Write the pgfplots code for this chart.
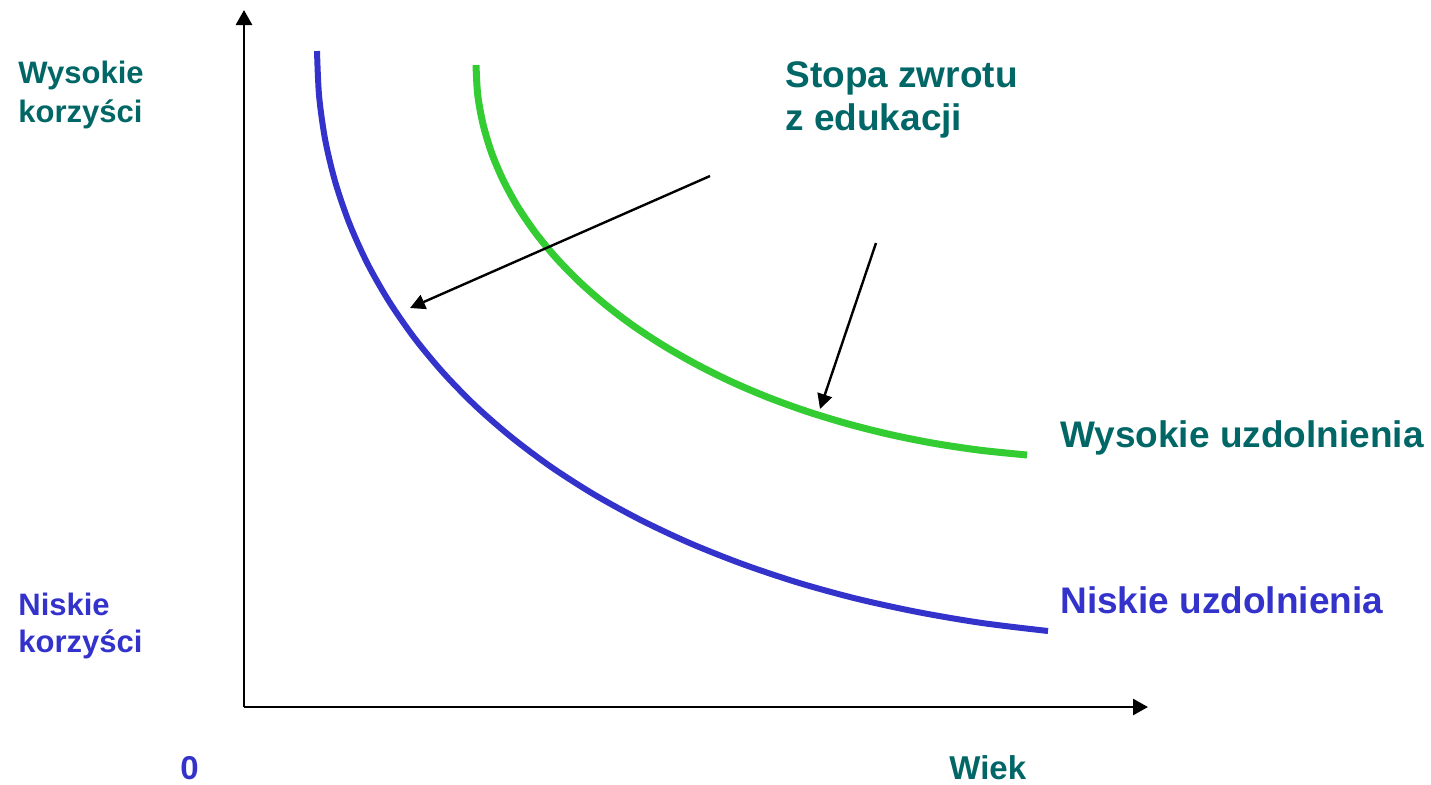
\documentclass[border=0pt]{standalone}
\usepackage{pgfplots}
\pgfplotsset{compat=1.18}
\usepackage{fontspec}
\setmainfont{Liberation Sans}
\usetikzlibrary{arrows.meta}
\definecolor{cblue}{HTML}{3333CC}
\definecolor{cgreen}{HTML}{33CC33}
\definecolor{cteal}{HTML}{006666}
\begin{document}
\begin{tikzpicture}
\path[use as bounding box] (0,0) rectangle (715.5pt,392pt);
\begin{axis}[
  scale only axis, width=715.5pt, height=392pt,
  xmin=0, xmax=1431, ymin=0, ymax=784, y dir=reverse,
  hide axis, clip=false, anchor=south west, at={(0,0)}]
% axes
\addplot[black, line width=1.4pt, -{Triangle[length=7.5pt,width=8pt]}] coordinates {(244,707) (244,10)};
\addplot[black, line width=1.4pt, -{Triangle[length=7.5pt,width=8pt]}] coordinates {(244,707) (1148,707)};
% low ability (blue)
\addplot[cblue, line width=3pt, smooth] coordinates {
 (317,51) (319.1,96.0) (325.2,139.9) (335.4,182.5) (349.5,223.7) (367.5,263.6) (389.3,301.8)
 (414.8,338.5) (443.9,373.5) (476.5,406.8) (512.6,438.1) (552.1,467.6) (595.0,495.0)
 (641.1,520.2) (690.3,543.3) (742.7,564.1) (798.0,582.6) (856.3,598.6) (917.5,612.0)
 (981.4,622.9) (1048,631)};
% high ability (green)
\addplot[cgreen, line width=3.5pt, smooth] coordinates {
 (476,65) (477.7,94.6) (482.9,123.6) (491.3,152.0) (502.9,179.6) (517.5,206.4) (535.1,232.3)
 (555.5,257.2) (578.7,281.1) (604.4,303.8) (632.6,325.3) (663.2,345.4) (696.1,364.2)
 (731.1,381.6) (768.2,397.4) (807.2,411.5) (848.0,423.9) (890.5,434.6) (934.5,443.4)
 (980.1,450.2) (1027,455)};
% annotation arrows
\addplot[black, line width=1.2pt, -{Triangle[length=7.5pt,width=7.5pt]}] coordinates {(710,176) (410,308)};
\addplot[black, line width=1.2pt, -{Triangle[length=7.5pt,width=7.5pt]}] coordinates {(876,243) (820,409)};
% labels
\node[anchor=base west, inner sep=0, text=cteal, font=\fontsize{15.5pt}{18pt}\selectfont\bfseries] at (axis cs:18,83) {Wysokie};
\node[anchor=base west, inner sep=0, text=cteal, font=\fontsize{15.5pt}{18pt}\selectfont\bfseries] at (axis cs:18,122) {korzyści};
\node[anchor=base west, inner sep=0, text=cblue, font=\fontsize{15.5pt}{18pt}\selectfont\bfseries] at (axis cs:18,615) {Niskie};
\node[anchor=base west, inner sep=0, text=cblue, font=\fontsize{15.5pt}{18pt}\selectfont\bfseries] at (axis cs:18,652) {korzyści};
\node[anchor=base west, inner sep=0, text=cblue, font=\fontsize{16.5pt}{18pt}\selectfont\bfseries] at (axis cs:180,779) {0};
\node[anchor=base west, inner sep=0, text=cteal, font=\fontsize{16.5pt}{18pt}\selectfont\bfseries] at (axis cs:949,779) {Wiek};
\node[anchor=base west, inner sep=0, text=cteal, font=\fontsize{18.5pt}{22pt}\selectfont\bfseries] at (axis cs:785,87) {Stopa zwrotu};
\node[anchor=base west, inner sep=0, text=cteal, font=\fontsize{18.5pt}{22pt}\selectfont\bfseries] at (axis cs:785,130) {z edukacji};
\node[anchor=base west, inner sep=0, text=cteal, font=\fontsize{18.5pt}{22pt}\selectfont\bfseries] at (axis cs:1060,447) {Wysokie uzdolnienia};
\node[anchor=base west, inner sep=0, text=cblue, font=\fontsize{18.5pt}{22pt}\selectfont\bfseries] at (axis cs:1060,613) {Niskie uzdolnienia};
\end{axis}
\end{tikzpicture}
\end{document}
